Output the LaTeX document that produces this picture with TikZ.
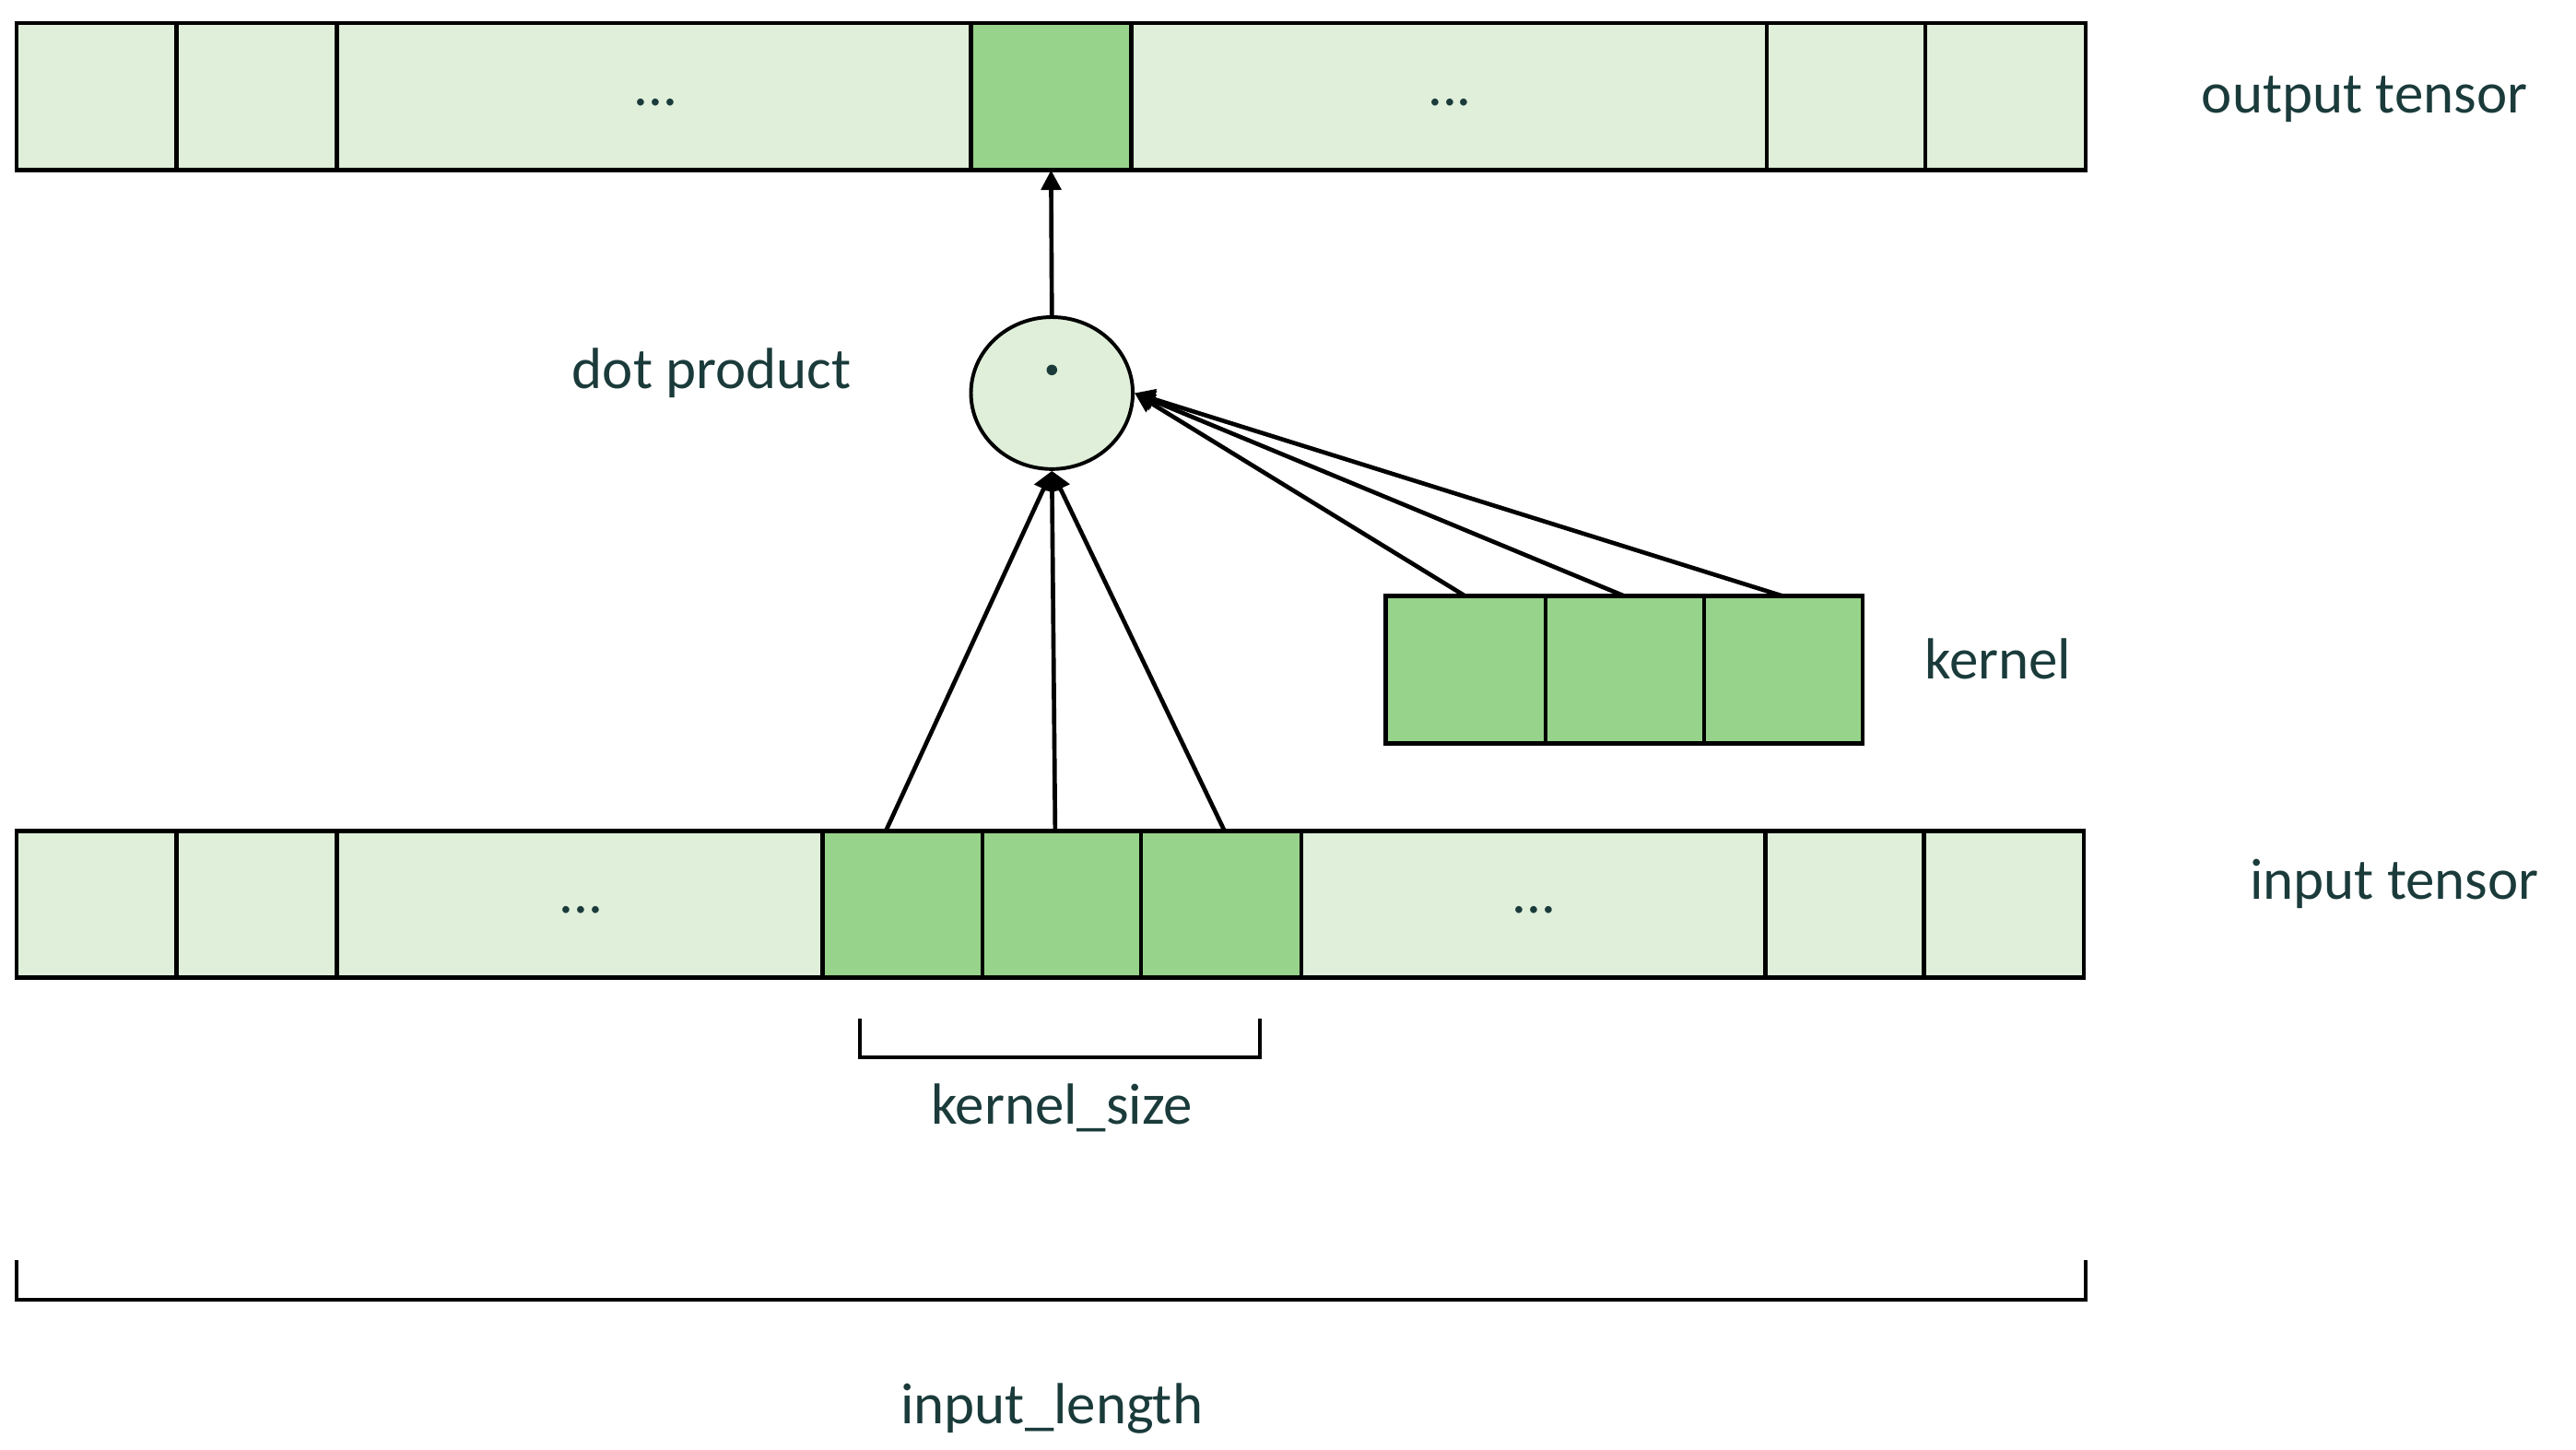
\documentclass[tikz,border=0pt]{standalone}
\usepackage{fontspec}
\setmainfont{Carlito}
\usetikzlibrary{arrows.meta,shapes.geometric}
\definecolor{lt}{HTML}{DFEFD9}
\definecolor{dk}{HTML}{97D38A}
\definecolor{tx}{HTML}{1B3B3B}
\begin{document}
\begin{tikzpicture}[x=0.5mm,y=-0.5mm,
 cell/.style={draw=black,line width=1.3mm,inner sep=0,outer sep=0,anchor=north west},
 lbl/.style={text=tx,font=\fontsize{50}{56}\selectfont,inner sep=0},
 arr/.style={line width=1.3mm,-{Triangle[length=6mm,width=6mm]}},
 brk/.style={line width=1.1mm}]
\useasboundingbox (0,0) rectangle (1560,877.4);
% output tensor
\foreach \a/\b/\c/\n in {10/107/lt/o1,107/204/lt/o2,204/588/lt/o3,588/685/dk/o4,685/1070/lt/o5,1070/1166/lt/o6,1166/1263/lt/o7}
  \node[cell,fill=\c,minimum width={(\b-\a)*0.5mm},minimum height=44.5mm] (\n) at (\a,14) {};
% input tensor
\foreach \a/\b/\c/\n in {10/107/lt/i1,107/204/lt/i2,204/498/lt/i3,498/595/dk/i4,595/691/dk/i5,691/788/dk/i6,788/1069/lt/i7,1069/1165/lt/i8,1165/1262/lt/i9}
  \node[cell,fill=\c,minimum width={(\b-\a)*0.5mm},minimum height=44.5mm] (\n) at (\a,503) {};
% kernel
\foreach \a/\b/\n in {839/936/k1,936/1032/k2,1032/1128/k3}
  \node[cell,fill=dk,minimum width={(\b-\a)*0.5mm},minimum height=44.5mm] (\n) at (\a,361) {};
% dots
\node[lbl] at (397,62) {...};
\node[lbl] at (878,62) {...};
\node[lbl] at (352,551) {...};
\node[lbl] at (929,551) {...};
% dot product circle
\node[draw=black,line width=1.1mm,fill=lt,ellipse,minimum width=49mm,minimum height=46mm,inner sep=0] (dp) at (637,238) {};
\fill[tx] (637,224) circle (1.6mm);
\draw[arr] (dp.north) -- (o4.south);
\draw[arr] ([xshift=-5mm]i4.north) -- (dp.south);
\draw[arr] ([xshift=-2mm]i5.north) -- (dp.south);
\draw[arr] ([xshift=1mm]i6.north) -- (dp.south);
\draw[arr] (k1.north) -- (dp.east);
\draw[arr] (k2.north) -- (dp.east);
\draw[arr] (k3.north) -- (dp.east);
% brackets
\draw[brk] (521,617) -- (521,640) -- (763,640) -- (763,617);
\draw[brk] (10,763) -- (10,787) -- (1263,787) -- (1263,763);
% labels
\node[lbl] at (1432,60) {output tensor};
\node[lbl] at (431,226) {dot product};
\node[lbl] at (1210,399) {kernel};
\node[lbl] at (1450,535) {input tensor};
\node[lbl] at (643,671) {kernel\_size};
\node[lbl] at (637,853) {input\_length};
\end{tikzpicture}
\end{document}
